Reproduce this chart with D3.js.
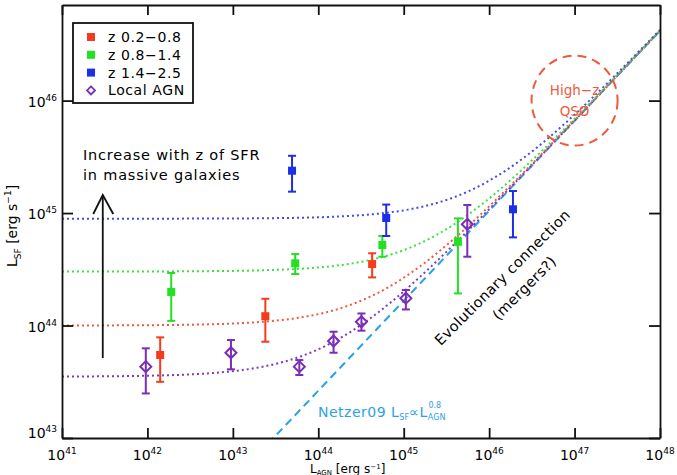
<!DOCTYPE html>
<html>
<head>
<meta charset="utf-8">
<script src="https://cdn.jsdelivr.net/npm/d3@7"></script>
<style>
  body { margin: 0; background: #fff; }
  text { font-family: "DejaVu Sans", sans-serif; }
</style>
</head>
<body>
<div id="chart"></div>
<script>
    var width = 677, height = 475;

    // tick values
    var xTicks = [1e41, 1e42, 1e43, 1e44, 1e45, 1e46, 1e47, 1e48];
    var yTicks = [1e43, 1e44, 1e45, 1e46];

    // z 0.2-0.8
    var redX  = [1.41e42, 2.4e43, 4.27e44];
    var redY  = [5.47e43, 1.21e44, 3.52e44];
    var redLo = [3.16e43, 7.18e43, 2.68e44];
    var redHi = [7.85e43, 1.73e44, 4.39e44];

    // z 0.8-1.4
    var greenX  = [1.9e42, 5.37e43, 5.62e44, 4.31e45];
    var greenY  = [1.99e44, 3.57e44, 5.2e44, 5.56e44];
    var greenLo = [1.1e44, 2.87e44, 4.09e44, 1.93e44];
    var greenHi = [2.93e44, 4.32e44, 6.25e44, 8.97e44];

    // z 1.4-2.5
    var blueX  = [4.93e43, 6.24e44, 1.9e46];
    var blueY  = [2.38e45, 9.04e44, 1.08e45];
    var blueLo = [1.55e45, 6.25e44, 6.08e44];
    var blueHi = [3.23e45, 1.19e45, 1.57e45];

    // local AGN
    var agnX  = [9.57e41, 9.5e42, 6.0e43, 1.51e44, 3.2e44, 1.06e45, 5.55e45];
    var agnY  = [4.31e43, 5.73e43, 4.31e43, 7.28e43, 1.08e44, 1.75e44, 7.94e44];
    var agnLo = [2.49e43, 4.08e43, 3.63e43, 5.73e43, 9.0e43, 1.39e44, 4.09e44];
    var agnHi = [6.27e43, 7.43e43, 4.93e43, 8.81e43, 1.28e44, 2.07e44, 1.18e45];

    // model: L_SF = floor + Netzer09 (log L_SF = 0.8 log L_AGN + 8.22)
    var netzerSlope = 0.8, netzerZero = 8.22;
    var floors = [1.0e44, 3.02e44, 8.91e44, 3.51e43];   // red, green, blue, purple

    var series = ['z 0.2\u22120.8', 'z 0.8\u22121.4', 'z 1.4\u22122.5', 'Local AGN'];
    var colors = ['#f43c1c', '#22e022', '#1c2ee6', '#7a2db8'];
    var lineColors = ['#f05a3c', '#3ee03e', '#4a4ae6', '#7a3cc0'];

    var x = d3.scaleLog().domain([1e41, 1e48]).range([62, 660]);
    var y = d3.scaleLog().domain([1e43, Math.pow(10, 46.85)]).range([438, 5]);

    var svg = d3.select('#chart')
        .append('svg')
        .attr('width', width)
        .attr('height', height);

    svg.append('clipPath').attr('id', 'plotclip')
        .append('rect')
        .attr('x', 62).attr('y', 5)
        .attr('width', 598).attr('height', 433);

    var plot = svg.append('g').attr('clip-path', 'url(#plotclip)');

    function netzer(L){ return Math.pow(10, netzerSlope * Math.log10(L) + netzerZero); }

    // model curves
    var lx = d3.range(41, 48.001, 0.05).map(function(v){ return Math.pow(10, v); });
    var line = d3.line()
        .x(function(d){ return x(d[0]); })
        .y(function(d){ return y(d[1]); });

    // netzer line
    plot.append('path')
        .attr('d', line(lx.map(function(L){ return [L, netzer(L)]; })))
        .attr('fill', 'none')
        .attr('stroke', '#2aa2e8')
        .attr('stroke-width', 2)
        .attr('stroke-dasharray', '8,5');

    [3, 0, 1, 2].forEach(function(i){
        plot.append('path')
            .attr('d', line(lx.map(function(L){ return [L, floors[i] + netzer(L)]; })))
            .attr('fill', 'none')
            .attr('stroke', lineColors[i])
            .attr('stroke-width', 2)
            .attr('stroke-dasharray', '2,3');
    });

    // error bars + markers
    function drawSeries(xs, ys, lo, hi, i, diamond){
        var g = svg.append('g').attr('stroke', colors[i]).attr('stroke-width', 2);
        xs.forEach(function(xv, k){
            var cx = x(xv);
            g.append('line').attr('x1', cx).attr('x2', cx).attr('y1', y(lo[k])).attr('y2', y(hi[k]));
            g.append('line').attr('x1', cx - 4).attr('x2', cx + 4).attr('y1', y(lo[k])).attr('y2', y(lo[k]));
            g.append('line').attr('x1', cx - 4).attr('x2', cx + 4).attr('y1', y(hi[k])).attr('y2', y(hi[k]));
            if(diamond){
                var cy = y(ys[k]);
                g.append('path')
                    .attr('d', 'M' + cx + ',' + (cy - 5.5) + 'L' + (cx + 5.5) + ',' + cy + 'L' + cx + ',' + (cy + 5.5) + 'L' + (cx - 5.5) + ',' + cy + 'Z')
                    .attr('fill', 'none');
            } else {
                g.append('rect')
                    .attr('x', cx - 4).attr('y', y(ys[k]) - 4)
                    .attr('width', 8).attr('height', 8)
                    .attr('fill', colors[i]).attr('stroke', 'none');
            }
        });
    }
    drawSeries(redX, redY, redLo, redHi, 0, false);
    drawSeries(greenX, greenY, greenLo, greenHi, 1, false);
    drawSeries(blueX, blueY, blueLo, blueHi, 2, false);
    drawSeries(agnX, agnY, agnLo, agnHi, 3, true);

    // axes frame with inward ticks
    var axB = d3.axisBottom(x).tickValues(xTicks).tickSizeInner(-10).tickSizeOuter(0).tickFormat('');
    var axT = d3.axisTop(x).tickValues(xTicks).tickSizeInner(-10).tickSizeOuter(0).tickFormat('');
    var axL = d3.axisLeft(y).tickValues(yTicks).tickSizeInner(-11).tickSizeOuter(0).tickFormat('');
    var axR = d3.axisRight(y).tickValues(yTicks).tickSizeInner(-11).tickSizeOuter(0).tickFormat('');
    svg.append('g').attr('transform', 'translate(0,438)').call(axB);
    svg.append('g').attr('transform', 'translate(0,5)').call(axT);
    svg.append('g').attr('transform', 'translate(62,0)').call(axL);
    svg.append('g').attr('transform', 'translate(660,0)').call(axR);
    svg.selectAll('.domain, .tick line').attr('stroke', '#111').attr('stroke-width', 1.8);

    function powLabel(sel, exp){
        sel.append('tspan').text('10');
        sel.append('tspan').attr('dy', -6).attr('font-size', 9).text(exp);
    }

    xTicks.forEach(function(t){
        var tx = svg.append('text')
            .attr('x', x(t)).attr('y', 460)
            .attr('text-anchor', 'middle')
            .attr('font-size', 14);
        powLabel(tx, Math.round(Math.log10(t)));
    });
    yTicks.forEach(function(t){
        var ty = svg.append('text')
            .attr('x', 57).attr('y', t === 1e43 ? 438 : y(t) + 6)
            .attr('text-anchor', 'end')
            .attr('font-size', 14);
        powLabel(ty, Math.round(Math.log10(t)));
    });

    // axis titles
    var yl = svg.append('text')
        .attr('transform', 'translate(17,267) rotate(-90)')
        .attr('font-size', 14);
    yl.append('tspan').text('L');
    yl.append('tspan').attr('font-size', 9).attr('dy', 4).text('SF');
    yl.append('tspan').attr('dy', -4).text(' [erg s');
    yl.append('tspan').attr('font-size', 9).attr('dy', -6).text('\u22121');
    yl.append('tspan').attr('dy', 6).text(']');

    var xl = svg.append('text')
        .attr('x', 310).attr('y', 473)
        .attr('font-size', 12);
    xl.append('tspan').text('L');
    xl.append('tspan').attr('font-size', 7).attr('dy', 1.5).text('AGN');
    xl.append('tspan').attr('dy', -1.5).text(' [erg s');
    xl.append('tspan').attr('font-size', 7).attr('dy', -4).text('\u22121');
    xl.append('tspan').attr('dy', 4).text(']');

    // legend
    svg.append('rect')
        .attr('x', 73).attr('y', 23)
        .attr('width', 120).attr('height', 80)
        .attr('fill', '#fff').attr('stroke', '#111').attr('stroke-width', 1.8);
    series.forEach(function(s, i){
        var ly = 37 + i * 17.8;
        if(i < 3){
            svg.append('rect').attr('x', 87).attr('y', ly - 4).attr('width', 8).attr('height', 8).attr('fill', colors[i]);
        } else {
            svg.append('path')
                .attr('d', 'M91,' + (ly - 4) + 'L95,' + ly + 'L91,' + (ly + 4) + 'L87,' + ly + 'Z')
                .attr('fill', 'none').attr('stroke', colors[i]).attr('stroke-width', 1.8);
        }
        svg.append('text').attr('x', 108).attr('y', ly + 5).attr('font-size', 14)
            .attr('letter-spacing', 0.6).text(s);
    });

    // annotations
    svg.append('text').attr('x', 83).attr('y', 160).attr('font-size', 14.5)
        .attr('letter-spacing', 0.8).text('Increase with z of SFR');
    svg.append('text').attr('x', 83).attr('y', 180).attr('font-size', 14.5)
        .attr('letter-spacing', 0.8).text('in massive galaxies');

    var ax = x(3e41);
    svg.append('line').attr('x1', ax).attr('x2', ax).attr('y1', 358).attr('y2', 196)
        .attr('stroke', '#111').attr('stroke-width', 1.8);
    svg.append('path').attr('d', 'M' + (ax - 9.5) + ',214L' + ax + ',195L' + (ax + 10.5) + ',214')
        .attr('fill', 'none').attr('stroke', '#111').attr('stroke-width', 1.8);

    // High-z QSO circle
    var qx = x(1e47), qy = y(1e46);
    svg.append('ellipse')
        .attr('cx', qx).attr('cy', qy).attr('rx', 43).attr('ry', 45)
        .attr('fill', 'none').attr('stroke', '#f05a3c').attr('stroke-width', 2)
        .attr('stroke-dasharray', '9,6');
    svg.append('text').attr('x', qx).attr('y', qy - 6).attr('text-anchor', 'middle')
        .attr('font-size', 13.5).attr('fill', '#f05a3c').text('High\u2212z');
    svg.append('text').attr('x', qx).attr('y', qy + 15).attr('text-anchor', 'middle')
        .attr('font-size', 13.5).attr('fill', '#f05a3c').text('QSO');

    // evolutionary connection
    var ev = svg.append('g').attr('transform', 'translate(506,281) rotate(-45)');
    ev.append('text').attr('text-anchor', 'middle').attr('font-size', 14.5)
        .attr('letter-spacing', 0.4).text('Evolutionary connection');
    ev.append('text').attr('x', 8).attr('y', 23).attr('text-anchor', 'middle').attr('font-size', 14.5)
        .attr('letter-spacing', 0.4).text('(mergers?)');

    // Netzer label
    var nz = svg.append('text').attr('x', 318).attr('y', 417).attr('font-size', 14)
        .attr('letter-spacing', 0.5).attr('fill', '#2aa2e8');
    nz.append('tspan').text('Netzer09 L');
    nz.append('tspan').attr('font-size', 8).attr('dy', 3).attr('letter-spacing', 0).text('SF');
    nz.append('tspan').attr('dy', -3).text('\u221dL');
    nz.append('tspan').attr('font-size', 8).attr('dy', 3).attr('letter-spacing', 0).text('AGN');
    nz.append('tspan').attr('font-size', 8).attr('dx', -17).attr('dy', -12).attr('letter-spacing', 0).text('0.8');
</script>
</body>
</html>
